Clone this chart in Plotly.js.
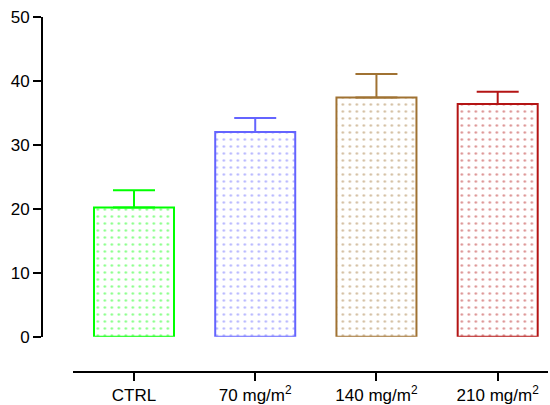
<!DOCTYPE html>
<html>
<head>
<meta charset="utf-8">
<script src="https://cdn.plot.ly/plotly-3.0.1.min.js"></script>
<style>html,body{margin:0;padding:0;background:#fff;}#chart{width:550px;height:405px;}</style>
</head>
<body>
<div id="chart"></div>
<script>
const categories = ["CTRL", "70 mg/m<sup>2</sup>", "140 mg/m<sup>2</sup>", "210 mg/m<sup>2</sup>"];
const means = [20.2, 32.0, 37.4, 36.4];
const errors = [2.7, 2.2, 3.7, 1.9];
const colors = ["#00ff00", "#6464ff", "#a07232", "#b41414"];
const yTicks = [0, 10, 20, 30, 40, 50];

const traces = categories.map((c, i) => ({
  type: "bar",
  x: [c],
  y: [means[i]],
  width: 0.66,
  marker: {
    color: "#ffffff",
    line: {color: colors[i], width: 2},
    pattern: {shape: ".", fgcolor: colors[i], bgcolor: "#ffffff", size: 7, solidity: 0.09, fillmode: "overlay"}
  },
  error_y: {type: "data", symmetric: false, array: [errors[i]], arrayminus: [0], color: colors[i], thickness: 2, width: 21},
  showlegend: false,
  hoverinfo: "none"
}));

const layout = {
  width: 550, height: 405,
  margin: {l: 42, r: 2, t: 17, b: 33},
  paper_bgcolor: "#ffffff", plot_bgcolor: "#ffffff",
  font: {family: "Liberation Sans, Arial, sans-serif", size: 17, color: "#000"},
  xaxis: {
    domain: [0.062, 1],
    anchor: "free", position: 0,
    type: "category",
    range: [-0.5, 3.415],
    showline: true, linecolor: "#000", linewidth: 2,
    ticks: "outside", ticklen: 8, tickwidth: 2, tickcolor: "#000",
    showgrid: false, zeroline: false,
    tickfont: {size: 17}
  },
  yaxis: {
    domain: [0.0994, 1],
    anchor: "free", position: 0,
    range: [0, 50],
    tickvals: yTicks,
    ticktext: yTicks.map(String),
    showline: true, linecolor: "#000", linewidth: 2,
    ticks: "outside", ticklen: 8, tickwidth: 2, tickcolor: "#000",
    showgrid: false, zeroline: false,
    tickfont: {size: 17}
  },
  bargap: 0.34
};

Plotly.newPlot("chart", traces, layout, {displayModeBar: false, staticPlot: true});
</script>
</body>
</html>
